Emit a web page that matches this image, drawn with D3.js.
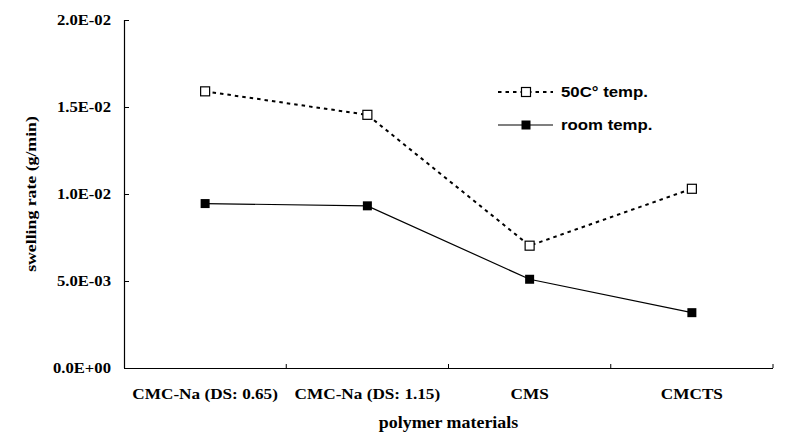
<!DOCTYPE html>
<html><head><meta charset="utf-8">
<script src="https://cdn.jsdelivr.net/npm/d3@7"></script>
<style>body{margin:0;background:#fff}</style>
</head><body>
<svg id="c" width="791" height="441"></svg>
<script>
const categories = ["CMC-Na (DS: 0.65)", "CMC-Na (DS: 1.15)", "CMS", "CMCTS"];
const temp50 = [0.0159, 0.01455, 0.00703, 0.0103];
const roomTemp = [0.00945, 0.00932, 0.0051, 0.00318];
const yTicks = [0, 0.005, 0.01, 0.015, 0.02];
const yTickLabels = ["0.0E+00", "5.0E-03", "1.0E-02", "1.5E-02", "2.0E-02"];
const seriesNames = ["50C\u00b0 temp.", "room temp."];

const svg = d3.select("#c");
const pLeft = 124, pRight = 773, pTop = 20, pBottom = 368;
const x = d3.scaleBand().domain(categories).range([pLeft, pRight]);
const y = d3.scaleLinear().domain([0, 0.02]).range([pBottom, pTop]);
const serif = "'Liberation Serif','Times New Roman',serif";
const sans = "'Liberation Sans',Arial,sans-serif";
const SX = 1.2; // horizontal stretch of the reference text

// Y axis
const yAxis = svg.append("g").attr("transform", `translate(${pLeft},0)`)
  .call(d3.axisLeft(y).tickValues(yTicks).tickSize(-5)
    .tickFormat((d, i) => yTickLabels[i]));
yAxis.select(".domain").attr("stroke", "#000").attr("stroke-width", 1.2).attr("d", `M0.5,${pTop}V${pBottom}`);
yAxis.selectAll(".tick line").attr("stroke", "#000");
yAxis.selectAll(".tick text").attr("font-family", serif).attr("font-weight", "bold")
  .attr("font-size", 14).attr("fill", "#000").attr("x", 0).attr("dy", "0.34em")
  .attr("transform", `translate(-13,0) scale(1.19,1)`);

// X axis
const xAxis = svg.append("g").attr("transform", `translate(0,${pBottom})`)
  .call(d3.axisBottom(x).tickSize(0));
xAxis.select(".domain").attr("stroke", "#000").attr("stroke-width", 1.2).attr("d", `M${pLeft},0.5H${pRight}`);
xAxis.selectAll(".tick text").attr("font-family", serif).attr("font-weight", "bold")
  .attr("font-size", 15.5).attr("fill", "#000").attr("y", 31.5).attr("dy", 0)
  .attr("transform", `scale(1.11,1)`);
const bounds = categories.map(c => x(c) + x.bandwidth());
xAxis.selectAll(".bt").data(bounds).enter().append("line")
  .attr("x1", d => d).attr("x2", d => d).attr("y1", 0).attr("y2", -4)
  .attr("stroke", "#000");

// axis titles
svg.append("text").attr("transform", `translate(36,194) rotate(-90) scale(${SX},1)`)
  .attr("text-anchor", "middle").attr("font-family", serif).attr("font-weight", "bold")
  .attr("font-size", 14.8).text("swelling rate (g/min)");
svg.append("text").attr("transform", `translate(${(pLeft + pRight) / 2},428) scale(1.12,1)`)
  .attr("text-anchor", "middle").attr("font-family", serif).attr("font-weight", "bold")
  .attr("font-size", 16).text("polymer materials");

const cx = c => x(c) + x.bandwidth() / 2;
const line = d3.line().x(d => cx(d.c)).y(d => y(d.v));
const d50 = categories.map((c, i) => ({c, v: temp50[i]}));
const dRoom = categories.map((c, i) => ({c, v: roomTemp[i]}));

svg.append("path").datum(dRoom).attr("d", line).attr("fill", "none")
  .attr("stroke", "#000").attr("stroke-width", 1.2);
svg.append("path").datum(d50).attr("d", line).attr("fill", "none")
  .attr("stroke", "#000").attr("stroke-width", 2).attr("stroke-dasharray", "3.5,4");

const ms = 9;
svg.selectAll(".m50").data(d50).enter().append("rect")
  .attr("x", d => cx(d.c) - ms / 2).attr("y", d => y(d.v) - ms / 2)
  .attr("width", ms).attr("height", ms).attr("fill", "#fff").attr("stroke", "#000").attr("stroke-width", 1.2);
svg.selectAll(".mr").data(dRoom).enter().append("rect")
  .attr("x", d => cx(d.c) - ms / 2).attr("y", d => y(d.v) - ms / 2)
  .attr("width", ms).attr("height", ms).attr("fill", "#000");

// legend
const lg = svg.append("g");
const ly = [92, 125];
lg.append("line").attr("x1", 498).attr("x2", 553).attr("y1", ly[0]).attr("y2", ly[0])
  .attr("stroke", "#000").attr("stroke-width", 2).attr("stroke-dasharray", "3.5,4");
lg.append("rect").attr("x", 526 - ms / 2).attr("y", ly[0] - ms / 2).attr("width", ms).attr("height", ms)
  .attr("fill", "#fff").attr("stroke", "#000").attr("stroke-width", 1.2);
lg.append("line").attr("x1", 498).attr("x2", 553).attr("y1", ly[1]).attr("y2", ly[1])
  .attr("stroke", "#000").attr("stroke-width", 1.2);
lg.append("rect").attr("x", 526 - ms / 2).attr("y", ly[1] - ms / 2).attr("width", ms).attr("height", ms)
  .attr("fill", "#000");
lg.selectAll(".lt").data(seriesNames).enter().append("text")
  .attr("transform", (d, i) => `translate(561,${ly[i] + 5}) scale(${SX},1)`)
  .attr("font-family", sans).attr("font-weight", "bold")
  .attr("font-size", 14).text(d => d);
</script>
</body></html>
